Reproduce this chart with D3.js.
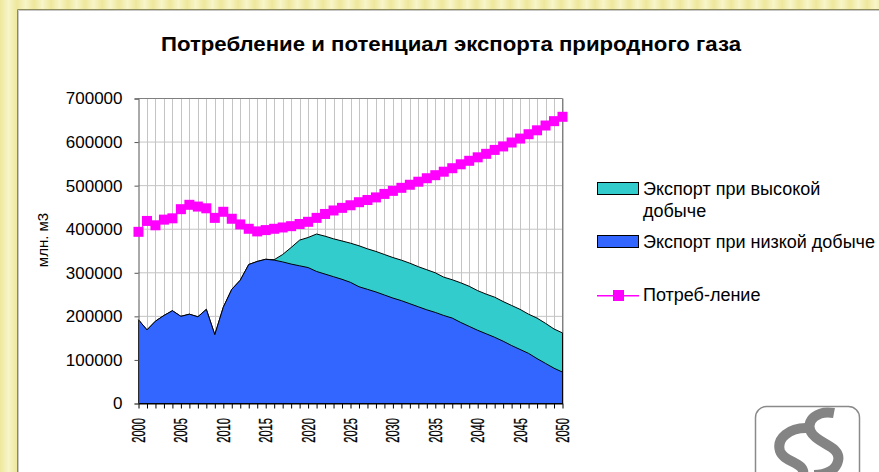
<!DOCTYPE html>
<html>
<head>
<meta charset="utf-8">
<script src="https://cdn.jsdelivr.net/npm/d3@7"></script>
<style>
  body { margin: 0; background: #fff; }
  svg { display: block; font-family: "Liberation Sans", Arial, sans-serif; }
</style>
</head>
<body>
<svg id="svg" width="879" height="472"></svg>
<script>
// years on the category axis
const years = [2000, 2001, 2002, 2003, 2004, 2005, 2006, 2007, 2008, 2009,
    2010, 2011, 2012, 2013, 2014, 2015, 2016, 2017, 2018, 2019,
    2020, 2021, 2022, 2023, 2024, 2025, 2026, 2027, 2028, 2029,
    2030, 2031, 2032, 2033, 2034, 2035, 2036, 2037, 2038, 2039,
    2040, 2041, 2042, 2043, 2044, 2045, 2046, 2047, 2048, 2049, 2050];

// млн. м3
const exportHigh = [192000, 169000, 189000, 202000, 213000, 200000, 205000, 199000, 216000, 158000,
    221000, 262000, 283000, 319000, 326000, 331000, 330000, 342000, 358000, 375000,
    381000, 389000, 384000, 378000, 373000, 368000, 362000, 355000, 349000, 342000,
    335000, 329000, 322000, 314000, 307000, 300000, 290000, 284000, 277000, 269000,
    259000, 251000, 244000, 234000, 225000, 216000, 205000, 196000, 184000, 171000, 162000];

const exportLow = [192000, 169000, 189000, 202000, 213000, 200000, 205000, 199000, 216000, 158000,
    221000, 262000, 283000, 319000, 326000, 331000, 329000, 325000, 320000, 316000,
    312000, 303000, 297000, 291000, 285000, 278000, 268000, 262000, 256000, 249000,
    242000, 236000, 229000, 222000, 215000, 209000, 202000, 196000, 186000, 177000,
    168000, 160000, 152000, 143000, 133000, 124000, 115000, 103000, 92000, 81000, 72000];

const consumption = [394000, 419000, 409000, 422000, 425000, 446000, 456000, 452000, 448000, 426000,
    440000, 424000, 411000, 401000, 395000, 398000, 401000, 404000, 407000, 412000,
    417000, 426000, 435000, 443000, 449000, 455000, 462000, 467000, 473000, 481000,
    488000, 495000, 502000, 509000, 517000, 524000, 532000, 540000, 549000, 557000,
    565000, 573000, 582000, 590000, 599000, 608000, 618000, 627000, 638000, 648000, 658000];

const yTicks = [0, 100000, 200000, 300000, 400000, 500000, 600000, 700000];
const xLabelYears = [2000, 2005, 2010, 2015, 2020, 2025, 2030, 2035, 2040, 2045, 2050];

const title = 'Потребление и потенциал экспорта природного газа';
const yTitle = 'млн. м3';
const legendHigh = ['Экспорт при высокой', 'добыче'];
const legendLow = ['Экспорт при низкой добыче'];
const legendCons = ['Потреб-ление'];

const svg = d3.select('#svg');
const defs = svg.append('defs');

// yellow striped frame behind the slide
const grad = defs.append('linearGradient')
    .attr('id', 'stripes')
    .attr('gradientUnits', 'userSpaceOnUse')
    .attr('x1', 0).attr('x2', 17).attr('y1', 0).attr('y2', 0)
    .attr('spreadMethod', 'repeat');
grad.append('stop').attr('offset', '0%').attr('stop-color', '#eee79c');
grad.append('stop').attr('offset', '50%').attr('stop-color', '#f8f5c9');
grad.append('stop').attr('offset', '100%').attr('stop-color', '#eee79c');

svg.append('rect')
    .attr('width', 879).attr('height', 472)
    .attr('fill', 'url(#stripes)');

// white panel
svg.append('rect')
    .attr('x', 17).attr('y', 9)
    .attr('width', 870).attr('height', 470)
    .attr('fill', '#fff');
svg.append('path')
    .attr('d', 'M17.5,472V9.5H879')
    .attr('fill', 'none')
    .attr('stroke', '#8c8a58')
    .attr('stroke-width', 1);
svg.append('path')
    .attr('d', 'M18.5,472V10.5H879')
    .attr('fill', 'none')
    .attr('stroke', '#c8c8c8')
    .attr('stroke-width', 1);

svg.append('text')
    .attr('x', 451)
    .attr('y', 51)
    .attr('text-anchor', 'middle')
    .attr('font-size', 21)
    .attr('font-weight', 'bold')
    .attr('textLength', 580)
    .attr('lengthAdjust', 'spacingAndGlyphs')
    .text(title);

const x = d3.scaleLinear().domain([2000, 2050]).range([138.5, 562.5]);
const y = d3.scaleLinear().domain([0, 700000]).range([403.5, 98.5]);

// grid
svg.append('g')
    .selectAll('line')
    .data(years.slice(1))
    .join('line')
    .attr('x1', d => Math.round(x(d)) + 0.5)
    .attr('x2', d => Math.round(x(d)) + 0.5)
    .attr('y1', y(700000))
    .attr('y2', y(0))
    .attr('stroke', '#c4c4c4');

svg.append('g')
    .selectAll('line')
    .data(yTicks.slice(1))
    .join('line')
    .attr('x1', x(2000))
    .attr('x2', x(2050))
    .attr('y1', d => y(d))
    .attr('y2', d => y(d))
    .attr('stroke', '#c4c4c4');

// plot border, top and right
svg.append('path')
    .attr('d', `M${x(2000)},${y(700000)}H${x(2050)}V${y(0)}`)
    .attr('fill', 'none')
    .attr('stroke', '#808080');

const rows = years.map((yr, i) => ({ year: yr, high: exportHigh[i], low: exportLow[i], cons: consumption[i] }));

const areaHigh = d3.area().x(d => x(d.year)).y0(y(0)).y1(d => y(d.high));
const areaLow = d3.area().x(d => x(d.year)).y0(y(0)).y1(d => y(d.low));

svg.append('path')
    .datum(rows)
    .attr('d', areaHigh)
    .attr('fill', '#33cccc')
    .attr('stroke', '#000')
    .attr('stroke-width', 1);

svg.append('path')
    .datum(rows)
    .attr('d', areaLow)
    .attr('fill', '#3366ff')
    .attr('stroke', '#000')
    .attr('stroke-width', 1);

// axes
const yAxis = svg.append('g')
    .attr('transform', `translate(${x(2000)},0)`)
    .call(d3.axisLeft(y).tickValues(yTicks).tickSize(4).tickPadding(12).tickFormat(d3.format('d')));
yAxis.select('.domain').attr('stroke', '#555');
yAxis.selectAll('.tick line').attr('stroke', '#555');
yAxis.selectAll('text')
    .attr('font-size', 17)
    .attr('font-family', '"Liberation Sans", Arial, sans-serif')
    .attr('fill', '#000');

const xAxis = svg.append('g')
    .attr('transform', `translate(0,${y(0)})`)
    .call(d3.axisBottom(x).tickValues(years).tickSize(5).tickSizeOuter(0).tickFormat(''));
xAxis.select('.domain').attr('stroke', '#000');
xAxis.selectAll('.tick line').attr('stroke', '#000');

// rotated year labels, narrow like in the picture
svg.append('g')
    .selectAll('text')
    .data(xLabelYears)
    .join('text')
    .attr('transform', d => `translate(${x(d) + 6.5},418) rotate(-90) scale(0.62,1)`)
    .attr('text-anchor', 'end')
    .attr('font-size', 18)
    .attr('stroke', '#000')
    .attr('stroke-width', 0.3)
    .text(d => d);

// consumption line with square markers
const line = d3.line().x(d => x(d.year)).y(d => y(d.cons));
svg.append('path')
    .datum(rows)
    .attr('d', line)
    .attr('fill', 'none')
    .attr('stroke', '#ff00ff')
    .attr('stroke-width', 1);

svg.append('g')
    .selectAll('rect')
    .data(rows)
    .join('rect')
    .attr('x', d => x(d.year) - 5)
    .attr('y', d => y(d.cons) - 5)
    .attr('width', 10)
    .attr('height', 10)
    .attr('fill', '#ff00ff');

// y title
svg.append('text')
    .attr('transform', 'translate(48,240) rotate(-90)')
    .attr('text-anchor', 'middle')
    .attr('font-size', 15)
    .text(yTitle);

// legend
const legend = svg.append('g');
const legendItems = [
    { lines: legendHigh, fill: '#33cccc', y: 182 },
    { lines: legendLow, fill: '#3366ff', y: 235 }
];
legendItems.forEach(it => {
    legend.append('rect')
        .attr('x', 597.5).attr('y', it.y + 0.5)
        .attr('width', 41).attr('height', 12)
        .attr('fill', it.fill)
        .attr('stroke', '#000');
    const t = legend.append('text')
        .attr('x', 643)
        .attr('y', it.y + 13)
        .attr('font-size', 18);
    it.lines.forEach((s, i) => {
        t.append('tspan').attr('x', 643).attr('dy', i == 0 ? 0 : 22).text(s);
    });
});
legend.append('rect')
    .attr('x', 597).attr('y', 295)
    .attr('width', 42).attr('height', 1.5)
    .attr('fill', '#ff00ff');
legend.append('rect')
    .attr('x', 613).attr('y', 290)
    .attr('width', 11).attr('height', 11)
    .attr('fill', '#ff00ff');
legend.append('text')
    .attr('x', 643).attr('y', 301)
    .attr('font-size', 18)
    .text(legendCons[0]);

// logo in the corner
const logo = svg.append('g');
logo.append('rect')
    .attr('x', 755.5).attr('y', 406.5)
    .attr('width', 104).attr('height', 90)
    .attr('rx', 11)
    .attr('fill', '#fff')
    .attr('stroke', '#8a8a8a')
    .attr('stroke-width', 1.5);
logo.append('path')
    .attr('d', 'M834,413 C818,410 805,420 811,432 C817,444 842,446 838,461 C836,470 826,475 814,475')
    .attr('fill', 'none')
    .attr('stroke', '#848484')
    .attr('stroke-width', 10);
logo.append('path')
    .attr('d', 'M806,428 C790,428 776,438 780,451 C784,463 806,462 803,475')
    .attr('fill', 'none')
    .attr('stroke', '#848484')
    .attr('stroke-width', 10);
</script>
</body>
</html>
